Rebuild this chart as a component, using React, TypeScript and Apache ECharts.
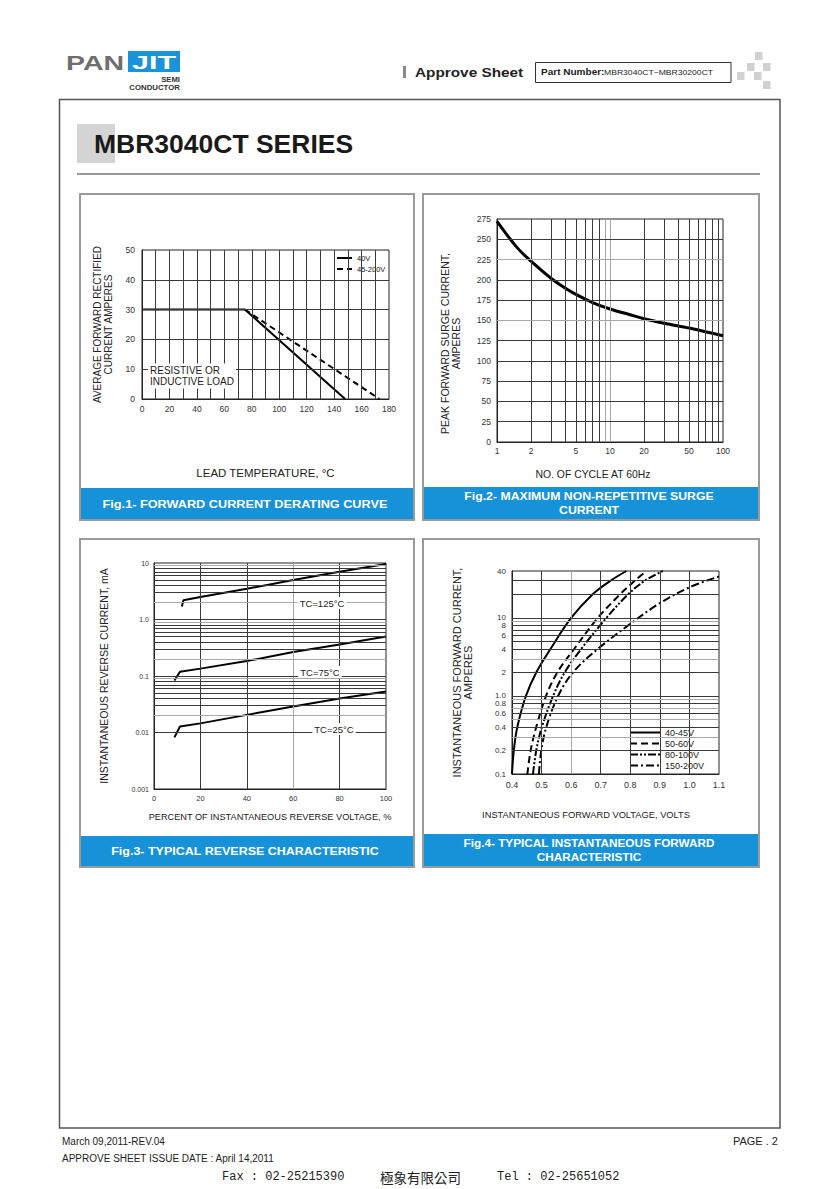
import React, { useEffect, useRef } from "react";
import * as echarts from "echarts";

const FONT = '"Liberation Sans", Arial, Helvetica, sans-serif';

// ---------- Fig.1 forward current derating ----------
const fig1XTicks = [0, 20, 40, 60, 80, 100, 120, 140, 160, 180];
const fig1Line40V: number[][] = [[0, 30], [75, 30], [148, 0]];
const fig1Line45_200V: number[][] = [[75, 30], [173, 0]];

// ---------- Fig.2 surge current ----------
const fig2Cycles = [1, 1.5, 2, 3, 4, 5, 7, 10, 15, 20, 30, 50, 70, 100];
const fig2Surge = [272, 240, 223, 202, 190, 182, 172, 164, 157, 152, 146.5, 140.5, 136, 131];
const fig2XLabels = [1, 2, 5, 10, 20, 50, 100];
const fig2VGrid = [2, 3, 4, 5, 6, 7, 8, 9, 10, 20, 30, 40, 50, 60, 70, 80, 90];
const fig2HGrid = [25, 50, 75, 100, 125, 150, 175, 200, 225, 250];

// ---------- Fig.3 reverse characteristic ----------
const fig3Pct125 = [12, 12.7, 20, 40, 60, 80, 100];
const fig3Cur125 = [1.7, 2.2, 2.5, 3.5, 5.0, 7.0, 9.6];
const fig3Pct75 = [8.8, 11.2, 20, 40, 60, 80, 100];
const fig3Cur75 = [0.083, 0.119, 0.135, 0.184, 0.265, 0.36, 0.5];
const fig3Pct25 = [8.8, 11.2, 20, 40, 60, 80, 100];
const fig3Cur25 = [0.0082, 0.0128, 0.0145, 0.0205, 0.0288, 0.0398, 0.053];
const fig3VGrid = [20, 40, 60, 80];
const fig3Decades = [0.001, 0.01, 0.1, 1];

// ---------- Fig.4 forward characteristic ----------
const fig4Cur = [0.1, 0.2, 0.4, 1, 2, 4, 10, 20, 30, 40];
const fig4V40_45 = [0.400, 0.406, 0.418, 0.447, 0.482, 0.530, 0.600, 0.672, 0.733, 0.787];
const fig4V50_60 = [0.452, 0.463, 0.482, 0.515, 0.553, 0.61, 0.69, 0.765, 0.815, 0.855];
const fig4V80_100 = [0.471, 0.482, 0.501, 0.539, 0.578, 0.634, 0.719, 0.792, 0.849, 0.91];
const fig4Cur150_200 = [0.1, 0.2, 0.4, 1, 2, 4, 8.4, 15.5, 24.7, 34];
const fig4V150_200 = [0.491, 0.499, 0.516, 0.556, 0.606, 0.690, 0.80, 0.90, 1.00, 1.10];
const fig4YLabels = [0.1, 0.2, 0.4, 0.6, 0.8, 1, 2, 4, 6, 8, 10, 40];
const fig4VGrid = [0.5, 0.6, 0.7, 0.8, 0.9, 1.0];
const fig4HGrid = [0.2, 0.3, 0.4, 0.5, 0.6, 0.7, 0.8, 0.9, 1, 2, 3, 4, 5, 6, 7, 8, 9, 10, 20, 30];

const zip = (a: number[], b: number[]) => a.map((v, i) => [v, b[i]]);

const DARK = "#3a3a3a";
const GRAY = "#a8a8a8";

function gridSeries(idx: number, lines: { axis: "xAxis" | "yAxis"; v: number; c: string }[]) {
  return {
    type: "line",
    name: "grid" + idx,
    xAxisIndex: idx,
    yAxisIndex: idx,
    data: [],
    z: 1,
    silent: true,
    markLine: {
      silent: true,
      symbol: ["none", "none"],
      label: { show: false },
      animation: false,
      lineStyle: { type: "solid", width: 1, color: DARK },
      data: lines.map((l) => ({ [l.axis]: l.v, lineStyle: { color: l.c, width: 1, type: "solid" } })),
    },
  };
}

function txt(x: number, y: number, text: string, o: any = {}) {
  return {
    type: "text",
    x,
    y,
    scaleX: o.sx ?? 1,
    z: o.z ?? 50,
    style: {
      text,
      fontSize: o.size ?? 10,
      fontWeight: o.bold ? "bold" : "normal",
      fontFamily: o.family ?? FONT,
      fill: o.color ?? "#222",
      align: o.align ?? "left",
      verticalAlign: o.va ?? "middle",
      backgroundColor: o.bg,
      padding: o.pad,
      lineHeight: o.lh,
    },
  };
}

function rect(x: number, y: number, w: number, h: number, style: any, z = 10) {
  return { type: "rect", z, shape: { x, y, width: w, height: h }, style };
}

function buildOption() {
  const labelStyle = (size: number, margin: number) => ({
    fontSize: size,
    color: "#333",
    fontFamily: FONT,
    margin,
  });
  const nameStyle = (size: number, extra: any = {}) => ({
    fontSize: size,
    color: "#222",
    fontFamily: FONT,
    lineHeight: 11,
    ...extra,
  });
  const axisLine = { show: true, lineStyle: { color: "#222", width: 1 } };
  const noTick = { show: false };
  const noSplit = { show: false };

  const fig1Grid = [] as any[];
  for (let v = 10; v <= 170; v += 10) fig1Grid.push({ axis: "xAxis", v, c: DARK });
  for (let v = 10; v <= 40; v += 10) fig1Grid.push({ axis: "yAxis", v, c: DARK });

  const fig2Grid = [
    ...fig2VGrid.map((v) => ({ axis: "xAxis", v, c: v === 9 || v === 10 ? GRAY : DARK })),
    ...fig2HGrid.map((v) => ({ axis: "yAxis", v, c: v === 150 || v === 225 ? GRAY : DARK })),
  ] as any[];

  const fig3Grid = [...fig3VGrid.map((v) => ({ axis: "xAxis", v, c: v === 60 ? GRAY : DARK }))] as any[];
  fig3Decades.forEach((d) => {
    for (let m = 1; m <= 9; m++) {
      if (d === 0.001 && m === 1) continue;
      fig3Grid.push({ axis: "yAxis", v: m * d, c: m === 2 || m === 9 ? GRAY : DARK });
    }
  });

  const fig4Grid = [
    ...fig4VGrid.map((v) => ({ axis: "xAxis", v, c: Math.abs(v - 0.6) < 1e-6 ? GRAY : DARK })),
    ...fig4HGrid.map((v) => ({
      axis: "yAxis",
      v,
      c: [0.3, 0.5, 0.7, 0.9, 3, 9].some((g) => Math.abs(g - v) < 1e-6) ? GRAY : DARK,
    })),
  ] as any[];

  const gridBox = { show: true, borderColor: "#222", borderWidth: 1, backgroundColor: "transparent" };

  const graphic: any[] = [];
  // ----- header -----
  graphic.push(txt(66, 62, "PAN", { size: 21, bold: true, color: "#6f6f6f", sx: 1.36 }));
  graphic.push(rect(128, 51, 52, 21, { fill: "#1b93d8" }));
  graphic.push(txt(154, 62, "JIT", { size: 19, bold: true, color: "#fff", align: "center", sx: 1.6, z: 60 }));
  graphic.push(txt(180, 80, "SEMI", { size: 7, bold: true, color: "#333", align: "right", sx: 1.1 }));
  graphic.push(txt(180, 88, "CONDUCTOR", { size: 7, bold: true, color: "#333", align: "right", sx: 1.12 }));
  graphic.push(rect(403, 66, 3, 12, { fill: "#888" }));
  graphic.push(txt(415, 72, "Approve Sheet", { size: 13, bold: true, color: "#222", sx: 1.18 }));
  graphic.push(rect(535.5, 62.5, 195.5, 20, { fill: "none", stroke: "#333", lineWidth: 1 }));
  graphic.push(txt(541, 72.5, "Part Number:", { size: 8.5, bold: true, color: "#222", sx: 1.18 }));
  graphic.push(txt(604, 73, "MBR3040CT~MBR30200CT", { size: 7, color: "#222", sx: 1.23 }));
  [
    [755, 52], [747, 63], [763, 63], [737, 72], [754, 72], [763, 81],
  ].forEach(([x, y]) => graphic.push(rect(x, y, 7.5, 8, { fill: "#d0d0d0" })));
  // frame
  graphic.push(rect(59.5, 99.5, 720.5, 1028.5, { fill: "none", stroke: "#555", lineWidth: 1.5 }));
  // title
  graphic.push(rect(77, 124, 38, 39, { fill: "#d4d4d4" }));
  graphic.push(txt(94, 144, "MBR3040CT SERIES", { size: 25, bold: true, color: "#1a1a1a", sx: 1.06, z: 60 }));
  graphic.push({ type: "line", z: 10, shape: { x1: 77, y1: 174, x2: 760, y2: 174 }, style: { stroke: "#777", lineWidth: 1.5 } });

  // panels
  const panels = [
    { x: 80, y: 194, w: 334, h: 326, barY: 488, barH: 31, sx: 1.21, lines: ["Fig.1- FORWARD CURRENT DERATING CURVE"] },
    { x: 423, y: 194, w: 336, h: 326, barY: 487, barH: 32, sx: 1.17, lines: ["Fig.2- MAXIMUM NON-REPETITIVE SURGE", "CURRENT"] },
    { x: 80, y: 539, w: 334, h: 328, barY: 836, barH: 30, sx: 1.19, lines: ["Fig.3- TYPICAL REVERSE CHARACTERISTIC"] },
    { x: 423, y: 539, w: 336, h: 328, barY: 834, barH: 32, sx: 1.12, lines: ["Fig.4- TYPICAL INSTANTANEOUS FORWARD", "CHARACTERISTIC"] },
  ];
  panels.forEach((p) => {
    graphic.push(rect(p.x, p.y, p.w, p.h, { fill: "none", stroke: "#9a9a9a", lineWidth: 2 }));
    graphic.push(rect(p.x + 1, p.barY, p.w - 2, p.barH, { fill: "#1592d8" }));
    const cx = p.x + p.w / 2 - 2;
    const cy = p.barY + p.barH / 2;
    if (p.lines.length === 1) {
      graphic.push(txt(cx, cy, p.lines[0], { size: 10.5, bold: true, color: "#fff", align: "center", sx: p.sx, z: 60 }));
    } else {
      graphic.push(txt(cx, cy - 6.5, p.lines[0], { size: 10.5, bold: true, color: "#fff", align: "center", sx: p.sx, z: 60 }));
      graphic.push(txt(cx, cy + 7, p.lines[1], { size: 10.5, bold: true, color: "#fff", align: "center", sx: p.sx, z: 60 }));
    }
  });

  // annotations
  graphic.push(txt(148, 376, "RESISTIVE OR\nINDUCTIVE LOAD", { size: 10, color: "#222", bg: "#fff", pad: [1, 2], lh: 11.5, z: 60 }));
  graphic.push(txt(322, 603, "TC=125°C", { size: 9.5, color: "#222", bg: "#fff", pad: [1, 2], align: "center", z: 60 }));
  graphic.push(txt(320, 672, "TC=75°C", { size: 9.5, color: "#222", bg: "#fff", pad: [1, 2], align: "center", z: 60 }));
  graphic.push(txt(334, 729, "TC=25°C", { size: 9.5, color: "#222", bg: "#fff", pad: [1, 2], align: "center", z: 60 }));

  // footer
  graphic.push(txt(62, 1141, "March 09,2011-REV.04", { size: 10, color: "#222" }));
  graphic.push(txt(778, 1141, "PAGE . 2", { size: 11, color: "#222", align: "right" }));
  graphic.push(txt(62, 1158, "APPROVE SHEET ISSUE DATE : April 14,2011", { size: 10, color: "#222" }));
  const mono = '"Liberation Mono", "Noto Sans CJK TC", monospace';
  graphic.push(txt(222, 1177, "Fax : 02-25215390", { size: 12, color: "#222", family: mono }));
  graphic.push(txt(380, 1177, "極象有限公司", { size: 13.5, color: "#222", family: '"Noto Sans CJK TC", sans-serif' }));
  graphic.push(txt(497, 1177, "Tel : 02-25651052", { size: 12, color: "#222", family: mono }));

  const fig3Fmt = (v: number) => (v < 0.005 ? "0.001" : v < 0.05 ? "0.01" : v < 0.5 ? "0.1" : v < 5 ? "1.0" : "10");
  const fig4Fmt = (v: number) => (v < 0.95 ? v.toFixed(1) : v < 1.05 ? "1.0" : String(Math.round(v)));

  const legendCommon = {
    orient: "vertical",
    selectedMode: false,
    backgroundColor: "#fff",
    itemStyle: { color: "rgba(0,0,0,0)", borderColor: "rgba(0,0,0,0)", borderWidth: 0 },
    lineStyle: { width: 2 },
  };

  const curve = (name: string, idx: number, data: number[][], type: any, extra: any = {}) => ({
    type: "line",
    name,
    xAxisIndex: idx,
    yAxisIndex: idx,
    data,
    symbol: "none",
    z: 3,
    lineStyle: { color: "#000", width: 2, type },
    itemStyle: { color: "#000" },
    ...extra,
  });

  return {
    animation: false,
    backgroundColor: "#fff",
    textStyle: { fontFamily: FONT },
    grid: [
      { left: 142, top: 250, width: 247, height: 149, ...gridBox },
      { left: 497, top: 219, width: 226, height: 223, ...gridBox },
      { left: 154, top: 563, width: 232, height: 226, ...gridBox },
      { left: 512, top: 571, width: 207, height: 203, ...gridBox },
    ],
    xAxis: [
      {
        gridIndex: 0, type: "value", min: 0, max: 180, interval: 10,
        axisLine, axisTick: noTick, splitLine: noSplit,
        axisLabel: { ...labelStyle(8.5, 5), formatter: (v: number) => (fig1XTicks.includes(v) ? String(v) : "") },
        name: "LEAD TEMPERATURE, °C", nameLocation: "middle", nameGap: 68, nameTextStyle: nameStyle(11.5),
      },
      {
        gridIndex: 1, type: "log", logBase: 10, min: 1, max: 100,
        axisLine, axisTick: noTick, splitLine: noSplit, minorSplitLine: { show: false },
        axisLabel: { ...labelStyle(8.5, 4), customValues: fig2XLabels, formatter: (v: number) => String(Math.round(v)) },
        name: "NO. OF CYCLE AT 60Hz", nameLocation: "middle", nameGap: 27,
        nameTextStyle: nameStyle(10.4, { padding: [0, 34, 0, 0] }),
      },
      {
        gridIndex: 2, type: "value", min: 0, max: 100, interval: 20,
        axisLine, axisTick: noTick, splitLine: noSplit,
        axisLabel: labelStyle(7.5, 5),
        name: "PERCENT OF INSTANTANEOUS REVERSE VOLTAGE, %", nameLocation: "middle", nameGap: 22,
        nameTextStyle: nameStyle(9.2),
      },
      {
        gridIndex: 3, type: "value", min: 0.4, max: 1.1, interval: 0.1,
        axisLine, axisTick: noTick, splitLine: noSplit,
        axisLabel: { ...labelStyle(9, 6), formatter: (v: number) => v.toFixed(1) },
        name: "INSTANTANEOUS FORWARD VOLTAGE, VOLTS", nameLocation: "middle", nameGap: 35,
        nameTextStyle: nameStyle(9.3, { padding: [0, 59, 0, 0] }),
      },
    ],
    yAxis: [
      {
        gridIndex: 0, type: "value", min: 0, max: 50, interval: 10,
        axisLine, axisTick: noTick, splitLine: noSplit,
        axisLabel: labelStyle(8.5, 7),
        name: "AVERAGE FORWARD RECTIFIED\nCURRENT AMPERES", nameLocation: "middle", nameRotate: 90, nameGap: 28,
        nameTextStyle: nameStyle(10),
      },
      {
        gridIndex: 1, type: "value", min: 0, max: 275, interval: 25,
        axisLine, axisTick: noTick, splitLine: noSplit,
        axisLabel: labelStyle(8.5, 6),
        name: "PEAK FORWARD SURGE CURRENT,\nAMPERES", nameLocation: "middle", nameRotate: 90, nameGap: 36,
        nameTextStyle: nameStyle(10.5, { padding: [0, 26, 0, 0] }),
      },
      {
        gridIndex: 2, type: "log", logBase: 10, min: 0.001, max: 10,
        axisLine, axisTick: noTick, splitLine: noSplit, minorSplitLine: { show: false },
        axisLabel: { ...labelStyle(7, 5), formatter: fig3Fmt },
        name: "INSTANTANEOUS REVERSE CURRENT, mA", nameLocation: "middle", nameRotate: 90, nameGap: 45,
        nameTextStyle: nameStyle(10.5),
      },
      {
        gridIndex: 3, type: "log", logBase: 10, min: 0.1, max: 40,
        axisLine, axisTick: noTick, splitLine: noSplit, minorSplitLine: { show: false },
        axisLabel: { ...labelStyle(8, 6), customValues: fig4YLabels, formatter: fig4Fmt },
        name: "INSTANTANEOUS FORWARD CURRENT,\nAMPERES", nameLocation: "middle", nameRotate: 90, nameGap: 39,
        nameTextStyle: nameStyle(11),
      },
    ],
    legend: [
      {
        ...legendCommon,
        data: ["40V", "45-200V"], left: 334, top: 253,
        itemWidth: 15, itemHeight: 6, itemGap: 3, padding: [1, 2],
        textStyle: { fontSize: 7.5, fontFamily: FONT, color: "#222" },
      },
      {
        ...legendCommon,
        data: ["40-45V", "50-60V", "80-100V", "150-200V"], left: 626, top: 726,
        itemWidth: 30, itemHeight: 8, itemGap: 2, padding: [2, 4, 2, 3],
        textStyle: { fontSize: 9, fontFamily: FONT, color: "#222" },
      },
    ],
    series: [
      gridSeries(0, fig1Grid),
      gridSeries(1, fig2Grid),
      gridSeries(2, fig3Grid),
      gridSeries(3, fig4Grid),
      curve("40V", 0, fig1Line40V, "solid"),
      curve("45-200V", 0, fig1Line45_200V, [6, 4]),
      curve("surge", 1, zip(fig2Cycles, fig2Surge), "solid", {
        smooth: 0.35, lineStyle: { color: "#000", width: 3 },
      }),
      curve("TC=125°C", 2, zip(fig3Pct125, fig3Cur125), "solid"),
      curve("TC=75°C", 2, zip(fig3Pct75, fig3Cur75), "solid"),
      curve("TC=25°C", 2, zip(fig3Pct25, fig3Cur25), "solid"),
      curve("40-45V", 3, zip(fig4V40_45, fig4Cur), "solid", { smooth: 0.35 }),
      curve("50-60V", 3, zip(fig4V50_60, fig4Cur), [7, 4], { smooth: 0.35 }),
      curve("80-100V", 3, zip(fig4V80_100, fig4Cur), [8, 2, 2, 2, 2, 2], { smooth: 0.35 }),
      curve("150-200V", 3, zip(fig4V150_200, fig4Cur150_200), [8, 3, 2, 3], { smooth: 0.35 }),
    ],
    graphic: { elements: graphic },
  };
}

export default function App() {
  const ref = useRef<HTMLDivElement>(null);
  useEffect(() => {
    if (!ref.current) return;
    const chart = echarts.init(ref.current, null, { renderer: "svg" });
    chart.setOption(buildOption() as any);
    return () => chart.dispose();
  }, []);
  return (
    <div
      ref={ref}
      style={{ position: "absolute", left: 0, top: 0, width: 840, height: 1189, background: "#fff" }}
    />
  );
}
